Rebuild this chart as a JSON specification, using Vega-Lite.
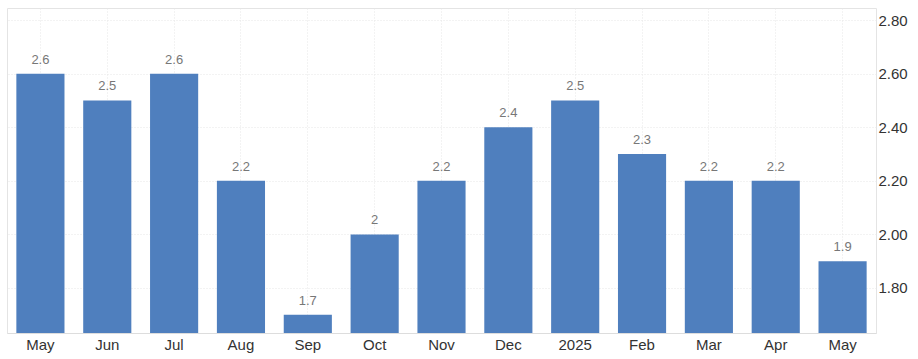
{
  "$schema": "https://vega.github.io/schema/vega-lite/v6.json",
  "width": 869,
  "height": 325,
  "autosize": "none",
  "padding": {"left": 7, "top": 8, "right": 42, "bottom": 26},
  "background": "white",
  "config": {
    "font": "Liberation Sans",
    "view": {"stroke": "#e4e4e4", "strokeWidth": 1}
  },
  "data": {
    "values": [
      {"m": "May|2024", "v": 2.6},
      {"m": "Jun|2024", "v": 2.5},
      {"m": "Jul|2024", "v": 2.6},
      {"m": "Aug|2024", "v": 2.2},
      {"m": "Sep|2024", "v": 1.7},
      {"m": "Oct|2024", "v": 2.0},
      {"m": "Nov|2024", "v": 2.2},
      {"m": "Dec|2024", "v": 2.4},
      {"m": "2025|2025", "v": 2.5},
      {"m": "Feb|2025", "v": 2.3},
      {"m": "Mar|2025", "v": 2.2},
      {"m": "Apr|2025", "v": 2.2},
      {"m": "May|2025", "v": 1.9}
    ]
  },
  "encoding": {
    "x": {
      "field": "m",
      "type": "nominal",
      "sort": null,
      "scale": {"paddingInner": 0.28, "paddingOuter": 0.14},
      "axis": {
        "title": null,
        "labelAngle": 0,
        "labelExpr": "split(datum.value, '|')[0]",
        "labelFontSize": 15,
        "labelColor": "#333333",
        "labelPadding": 4,
        "ticks": false,
        "domainColor": "#dddddd",
        "grid": true,
        "bandPosition": 0.5,
        "gridColor": "#e6e6e6",
        "gridDash": [1, 2]
      }
    },
    "y": {
      "field": "v",
      "type": "quantitative",
      "scale": {"domain": [1.632, 2.845], "zero": false, "nice": false, "clamp": true},
      "axis": {
        "orient": "right",
        "title": null,
        "values": [1.8, 2.0, 2.2, 2.4, 2.6, 2.8],
        "format": ".2f",
        "labelFontSize": 15,
        "labelColor": "#333333",
        "labelPadding": 2,
        "ticks": false,
        "domain": false,
        "gridColor": "#e6e6e6",
        "gridDash": [1, 2]
      }
    }
  },
  "layer": [
    {
      "mark": {"type": "bar", "color": "#4f7fbe", "clip": true}
    },
    {
      "mark": {"type": "text", "dy": -14, "fontSize": 13, "color": "#777777"},
      "encoding": {"text": {"field": "v", "type": "quantitative"}}
    }
  ]
}
